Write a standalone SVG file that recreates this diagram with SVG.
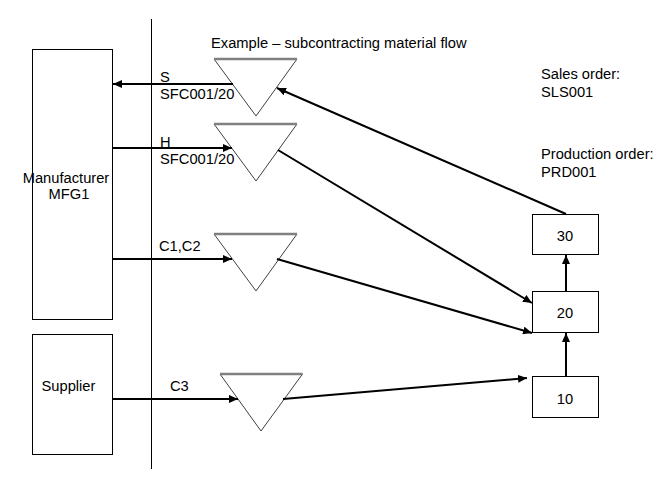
<svg xmlns="http://www.w3.org/2000/svg" width="668" height="483" viewBox="0 0 668 483">
<style>
text{font-family:"Liberation Sans",Arial,sans-serif;font-size:14.7px;fill:#000}
.box{fill:#fff;stroke:#000;stroke-width:1}
.tri{fill:#fff;stroke:#404040;stroke-width:1}
.top{stroke:#808080;stroke-width:2.5}
.c{stroke:#000;stroke-width:2;fill:none;marker-end:url(#ah)}
.m{text-anchor:middle}
</style>
<defs>
<marker id="ah" markerUnits="userSpaceOnUse" markerWidth="10" markerHeight="8" refX="9" refY="4" orient="auto">
<path d="M0,0 L9,4 L0,8 Z" fill="#000"/>
</marker>
</defs>
<rect width="668" height="483" fill="#fff"/>
<line x1="151.5" y1="19" x2="151.5" y2="469" stroke="#000" stroke-width="1"/>
<text x="211" y="48">Example – subcontracting material flow</text>
<text x="541" y="79">Sales order:</text>
<text x="541" y="97">SLS001</text>
<text x="541" y="159">Production order:</text>
<text x="541" y="177">PRD001</text>
<g id="manufacturer">
<rect class="box" x="32.5" y="49.5" width="80" height="270"/>
<text class="m" x="66" y="183">Manufacturer</text>
<text class="m" x="69" y="199">MFG1</text>
</g>
<g id="supplier">
<rect class="box" x="32.5" y="334.5" width="80" height="120"/>
<text class="m" x="68.5" y="391">Supplier</text>
</g>
<g id="tri1">
<polygon class="tri" points="214,59 297,59 256,116"/>
<line class="top" x1="214" y1="59" x2="297" y2="59"/>
</g>
<g id="tri2">
<polygon class="tri" points="214,124 297,124 256,181"/>
<line class="top" x1="214" y1="124" x2="297" y2="124"/>
</g>
<g id="tri3">
<polygon class="tri" points="214,234 297,234 256,291"/>
<line class="top" x1="214" y1="234" x2="297" y2="234"/>
</g>
<g id="tri4">
<polygon class="tri" points="220,374 302.5,374 261,431"/>
<line class="top" x1="220" y1="374" x2="302.5" y2="374"/>
</g>
<g id="op30">
<rect class="box" x="532.5" y="214.5" width="66" height="40"/>
<text class="m" x="565" y="241">30</text>
</g>
<g id="op20">
<rect class="box" x="532.5" y="291.5" width="66" height="41"/>
<text class="m" x="565" y="318">20</text>
</g>
<g id="op10">
<rect class="box" x="532.5" y="376.5" width="66" height="41"/>
<text class="m" x="565" y="404">10</text>
</g>
<g id="connectors">
<line class="c" x1="233" y1="84" x2="113" y2="84"/>
<line class="c" x1="113" y1="148" x2="232" y2="148"/>
<line class="c" x1="113" y1="259" x2="232" y2="259"/>
<line class="c" x1="113" y1="399" x2="238" y2="399"/>
<line class="c" x1="566" y1="214" x2="277" y2="88"/>
<line class="c" x1="278" y1="150" x2="532" y2="303"/>
<line class="c" x1="277" y1="259" x2="532" y2="333"/>
<line class="c" x1="283" y1="399" x2="527" y2="378"/>
<line class="c" x1="566" y1="376" x2="566" y2="333"/>
<line class="c" x1="566" y1="291" x2="566" y2="255"/>
</g>
<g id="labels">
<text x="160" y="82">S</text>
<text x="160" y="99">SFC001/20</text>
<text x="160" y="147">H</text>
<text x="160" y="164">SFC001/20</text>
<text x="159" y="251">C1,C2</text>
<text x="170" y="391">C3</text>
</g>
</svg>
